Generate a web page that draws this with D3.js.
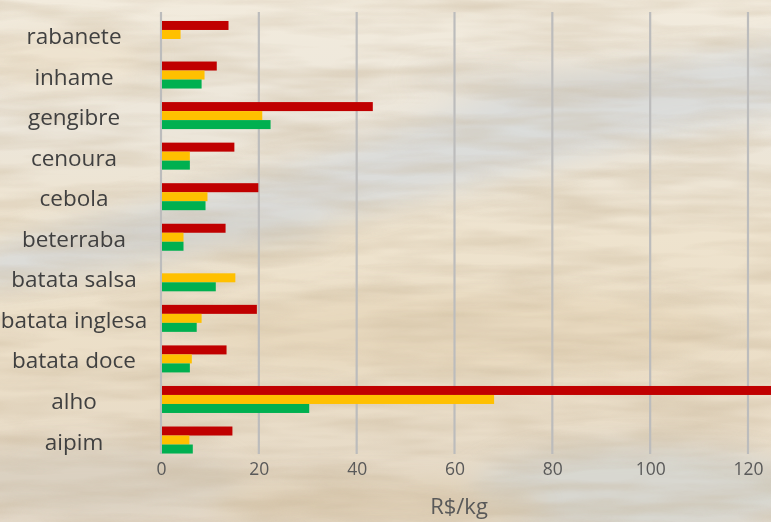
<!DOCTYPE html>
<html>
<head>
<meta charset="utf-8">
<script src="https://cdn.jsdelivr.net/npm/d3@7"></script>
<style>
  html, body { margin: 0; padding: 0; background: #efe7d8; }
  svg { display: block; }
</style>
</head>
<body>
<svg id="chart" width="771" height="522"></svg>
<script>
// Produtos (de cima para baixo)
const categories = ["rabanete", "inhame", "gengibre", "cenoura", "cebola", "beterraba",
  "batata salsa", "batata inglesa", "batata doce", "alho", "aipim"];

// Preços em R$/kg por série (null = sem dado)
const redValues    = [13.8, 11.4, 43.3, 15.0, 19.9, 13.2, null, 19.6, 13.4, 135, 14.6];
const yellowValues = [4.0, 8.9, 20.7, 5.9, 9.5, 4.6, 15.2, 8.3, 6.3, 68.1, 5.8];
const greenValues  = [null, 8.3, 22.4, 5.9, 9.1, 4.6, 11.2, 7.3, 5.9, 30.3, 6.5];

const xTicks = [0, 20, 40, 60, 80, 100, 120];
const axisTitle = "R$/kg";

const series = [
  { key: "red", values: redValues, color: "#c00000" },
  { key: "yellow", values: yellowValues, color: "#ffc000" },
  { key: "green", values: greenValues, color: "#00b050" }
];

const FONT = "'Open Sans', Lato, sans-serif";
const svg = d3.select("#chart");
const W = 771, H = 522;

// ---- painted-looking backdrop ----
const defs = svg.append("defs");
const bgGrad = defs.append("linearGradient").attr("id", "bgGrad")
  .attr("x1", 0).attr("y1", 0).attr("x2", 0).attr("y2", 1);
[["0%", "#f2ebdd"], ["25%", "#ece6da"], ["45%", "#eee3ce"], ["70%", "#ebdec7"], ["100%", "#e4d9c8"]]
  .forEach(([o, c]) => bgGrad.append("stop").attr("offset", o).attr("stop-color", c));

const blur = defs.append("filter").attr("id", "soft").attr("x", "-30%").attr("y", "-30%")
  .attr("width", "160%").attr("height", "160%");
blur.append("feGaussianBlur").attr("stdDeviation", 12);

const grain = defs.append("filter").attr("id", "grain").attr("x", 0).attr("y", 0)
  .attr("width", "100%").attr("height", "100%");
grain.append("feTurbulence").attr("type", "fractalNoise")
  .attr("baseFrequency", "0.008 0.06").attr("numOctaves", 3).attr("seed", 7);
grain.append("feColorMatrix").attr("type", "matrix")
  .attr("values", "0 0 0 0 0.55  0 0 0 0 0.44  0 0 0 0 0.30  0 0 0 -1.7 1.1");

const bg = svg.append("g");
bg.append("rect").attr("width", W).attr("height", H).attr("fill", "url(#bgGrad)");
const blobs = bg.append("g").attr("filter", "url(#soft)");
// bluish streak rising to the right
blobs.append("path")
  .attr("d", "M -20 250 C 150 200 300 170 450 110 C 560 70 680 60 800 40 L 800 110 C 680 130 560 160 450 190 C 300 230 150 270 -20 290 Z")
  .attr("fill", "#d8dbda").attr("opacity", 0.85);
blobs.append("ellipse").attr("cx", 210).attr("cy", 235).attr("rx", 120).attr("ry", 14)
  .attr("fill", "#c8c4ba").attr("opacity", 0.5);
blobs.append("ellipse").attr("cx", 560).attr("cy", 80).attr("rx", 150).attr("ry", 14)
  .attr("fill", "#cfccc4").attr("opacity", 0.5);
blobs.append("ellipse").attr("cx", 460).attr("cy", 330).attr("rx", 260).attr("ry", 40)
  .attr("fill", "#e4d2b4").attr("opacity", 0.55);
blobs.append("ellipse").attr("cx", 640).attr("cy", 490).attr("rx", 170).attr("ry", 45)
  .attr("fill", "#d3d5d3").attr("opacity", 0.75);
blobs.append("ellipse").attr("cx", 380).attr("cy", 505).attr("rx", 170).attr("ry", 25)
  .attr("fill", "#d9c7a8").attr("opacity", 0.6);
blobs.append("ellipse").attr("cx", 90).attr("cy", 480).attr("rx", 150).attr("ry", 35)
  .attr("fill", "#d6cdbd").attr("opacity", 0.7);
blobs.append("ellipse").attr("cx", 60).attr("cy", 60).attr("rx", 90).attr("ry", 30)
  .attr("fill", "#ece0c8").attr("opacity", 0.6);
bg.append("rect").attr("width", W).attr("height", H).attr("filter", "url(#grain)").attr("opacity", 0.45);

// ---- scales ----
const x = d3.scaleLinear().domain([0, 120]).range([161, 748]);
const y = d3.scaleBand().domain(categories).range([14.2, 460.3])
  .paddingInner(0.334).paddingOuter(0.167);
const ySub = d3.scaleBand().domain(series.map(s => s.key)).range([0, y.bandwidth()]);

const gridTop = 12, gridBottom = 454;

// gridlines
svg.append("g").selectAll("line").data(xTicks).join("line")
  .attr("x1", d => x(d)).attr("x2", d => x(d))
  .attr("y1", gridTop).attr("y2", gridBottom)
  .attr("stroke", "#bcbcbc").attr("stroke-width", 2.2);

// bars
const plot = svg.append("g");
series.forEach(s => {
  plot.append("g").selectAll("rect")
    .data(categories.map((c, i) => ({ c, v: s.values[i] })).filter(d => d.v != null))
    .join("rect")
    .attr("x", x(0) + 1)
    .attr("y", d => y(d.c) + ySub(s.key))
    .attr("width", d => Math.min(x(d.v), W + 5) - x(0) - 1)
    .attr("height", ySub.bandwidth())
    .attr("fill", s.color);
});

// x axis tick labels
const xAxis = d3.axisBottom(x).tickValues(xTicks).tickSize(0).tickPadding(0);
const gx = svg.append("g").attr("transform", `translate(0, ${gridBottom})`).call(xAxis);
gx.select(".domain").remove();
gx.selectAll("text")
  .attr("y", 14).attr("dy", "0")
  .attr("font-family", FONT)
  .attr("font-size", 17.5).attr("fill", "#595959")
  .attr("dominant-baseline", "central");

// category labels
svg.append("g").selectAll("text").data(categories).join("text")
  .attr("x", 74)
  .attr("y", d => y(d) + y.bandwidth() / 2 + 1)
  .attr("text-anchor", "middle")
  .attr("dominant-baseline", "central")
  .attr("font-family", FONT)
  .attr("font-size", 22.5).attr("fill", "#404040")
  .text(d => d);

// axis title
svg.append("text")
  .attr("x", 459).attr("y", 505)
  .attr("text-anchor", "middle").attr("dominant-baseline", "central")
  .attr("font-family", FONT)
  .attr("font-size", 22).attr("fill", "#595959")
  .text(axisTitle);
</script>
</body>
</html>
